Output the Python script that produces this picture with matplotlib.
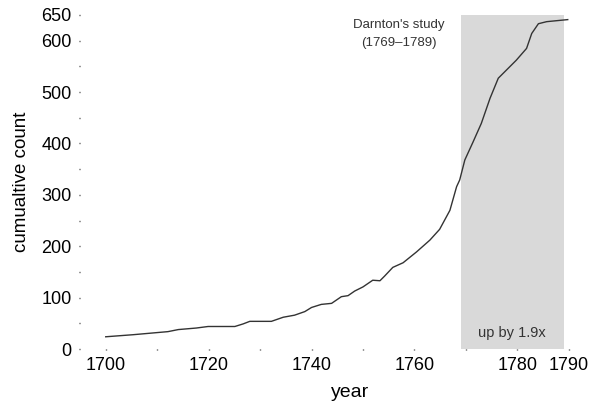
import matplotlib
matplotlib.use('Agg')
import matplotlib.pyplot as plt

plt.rcParams['font.family'] = ['Liberation Sans', 'DejaVu Sans']

# cumulative count
years = [1700, 1705.3, 1712.1, 1714.1, 1717.6, 1719.9, 1725.1, 1726.7, 1728,
         1732.2, 1734.5, 1736.7, 1738.7, 1740, 1741.9, 1743.9, 1745.8, 1747.1,
         1748.4, 1750, 1751.9, 1753.3, 1754.2, 1755.8, 1757.8, 1760.4, 1763,
         1764.9, 1766.9, 1768.2, 1768.8, 1769.8, 1771.4, 1773, 1774.7, 1776.3,
         1777.2, 1779.8, 1781.8, 1782.8, 1784.1, 1785.7, 1789.8]
counts = [24, 28, 34, 38, 41, 44, 44, 49, 54,
          54, 62, 66, 73, 81, 87, 89, 102, 104,
          113, 121, 134, 133, 142, 159, 168, 189, 212,
          233, 270, 316, 329, 368, 403, 439, 488, 527,
          536, 562, 585, 614, 633, 637, 641]

study_start, study_end = 1769, 1789
x_major = [1700, 1720, 1740, 1760, 1780, 1790]
x_minor = [1710, 1730, 1750, 1770]
y_major = [0, 100, 200, 300, 400, 500, 600, 650]
y_minor = [50, 150, 250, 350, 450, 550]

fig = plt.figure(figsize=(5.9, 4.05), dpi=100)
ax = fig.add_axes([0.1356, 0.138, 0.8284, 0.825])

ax.axvspan(study_start, study_end, color='#d9d9d9', lw=0, zorder=0)
ax.plot(years, counts, color='#333333', lw=1, zorder=2)

ax.set_xlim(1695, 1790)
ax.set_ylim(0, 650)
for s in ax.spines.values():
    s.set_visible(False)

ax.set_xticks(x_major)
ax.set_xticks(x_minor, minor=True)
ax.set_yticks(y_major)
ax.set_yticks(y_minor, minor=True)
ax.tick_params(which='both', length=1, width=1, color='#333333',
               labelsize=13, pad=5)

ax.set_xlabel('year', fontsize=14)
ax.xaxis.set_label_coords(0.552, -0.105)
ax.set_ylabel('cumualtive count', fontsize=13.5, labelpad=8)

ax.text(1757, 643, "Darnton's study\n(1769\u20131789)", ha='center', va='top',
        fontsize=9.5, color='#333333', linespacing=1.7)
ax.text((study_start + study_end) / 2, 31, 'up by 1.9x', ha='center',
        va='center', fontsize=10.5, color='#333333')

fig.savefig('out.png', dpi=100)
